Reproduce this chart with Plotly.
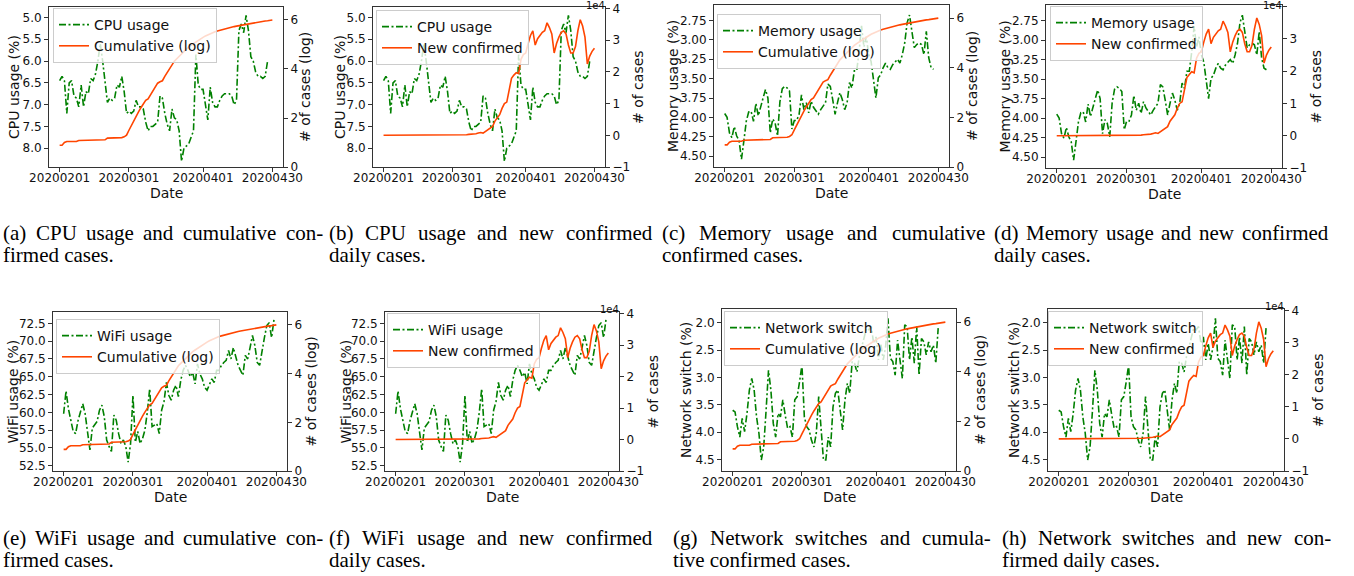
import pandas as pd
import plotly.graph_objects as go

W, H = 1354, 576

# ---------------- data ----------------
DATES = pd.date_range("2020-02-01", "2020-04-30", freq="D")
DATE_TICKS = ["2020-02-01", "2020-03-01", "2020-04-01", "2020-04-30"]

CPU_USAGE = [6.45, 6.35, 6.45, 7.2, 6.5, 6.45, 6.8, 6.85, 7.05, 6.55,
             7.05, 6.7, 6.75, 6.4, 6.45, 6.3, 6.0, 5.6, 6.0, 6.5,
             6.95, 6.85, 6.9, 6.85, 6.55, 6.6, 6.35, 6.7, 7.2, 7.15,
             7.2, 7.15, 6.9, 7.05, 7.05, 7.1, 7.4, 7.6, 7.5, 7.5,
             7.45, 7.4, 6.8, 6.85, 7.2, 7.45, 7.6, 7.1, 7.3, 7.35,
             7.6, 8.3, 8.0, 7.95, 7.9, 7.75, 7.6, 5.85, 6.55, 6.65,
             6.65, 7.0, 7.35, 6.6, 6.95, 7.05, 7.05, 6.9, 6.8, 6.75,
             6.75, 6.75, 6.8, 7.0, 6.9, 5.3, 5.15, 5.35, 4.95, 5.3,
             5.9, 6.0, 6.25, 6.35, 6.35, 6.4, 6.35, 6.0]

MEMORY_USAGE = [3.95, 4.0, 4.2, 4.26, 4.12, 4.24, 4.3, 4.54, 4.3, 4.05,
                3.93, 3.92, 4.05, 3.82, 3.98, 3.85, 3.75, 3.64, 3.75, 4.2,
                4.02, 4.07, 4.24, 3.8, 3.63, 3.6, 3.62, 3.66, 4.15, 4.04,
                4.04, 3.96, 3.71, 3.9, 3.81, 3.94, 3.79, 3.87, 3.92, 3.96,
                3.9, 3.85, 3.81, 3.57, 3.6, 3.77, 3.96, 3.81, 3.68, 3.77,
                3.9, 3.81, 3.55, 3.62, 3.4, 3.4, 3.15, 2.82, 3.09, 2.96,
                3.19, 3.28, 3.55, 3.75, 3.49, 3.45, 3.36, 3.3, 3.36, 3.38,
                3.32, 3.28, 3.25, 3.3, 3.19, 3.04, 2.78, 2.68, 2.87, 3.1,
                3.06, 3.04, 3.06, 3.19, 2.89, 3.23, 3.36, 3.38]

WIFI_USAGE = [59.8, 63.0, 60.5, 58.9, 57.3, 57.0, 58.8, 60.0, 61.2, 59.8,
              57.0, 54.7, 57.8, 58.2, 58.7, 60.3, 61.0, 59.4, 56.1, 55.2,
              54.5, 59.6, 58.9, 57.0, 55.6, 56.1, 55.2, 53.0, 55.6, 62.4,
              55.8, 57.3, 55.6, 56.3, 57.5, 60.0, 63.3, 58.0, 58.2, 58.4,
              57.0, 60.3, 61.5, 64.2, 62.4, 61.7, 63.1, 63.8, 62.2, 64.5,
              65.9, 66.6, 65.9, 65.0, 65.6, 64.0, 66.8, 65.4, 64.7, 63.5,
              63.1, 64.0, 64.7, 64.2, 65.9, 65.9, 66.6, 67.0, 67.3, 68.7,
              67.5, 69.1, 68.0, 66.6, 65.9, 65.2, 68.0, 67.5, 69.1, 70.8,
              69.4, 67.0, 66.6, 68.9, 70.5, 72.2, 72.6, 70.5, 73.0]

NETWORK_SWITCH = [3.6, 3.63, 3.9, 4.09, 3.75, 3.99, 3.66, 3.23, 3.02, 3.23,
                  3.72, 4.02, 4.51, 4.27, 3.6, 2.87, 3.23, 3.84, 4.09, 3.66,
                  3.72, 3.41, 3.69, 3.93, 3.9, 4.09, 3.41, 3.35, 3.08, 2.77,
                  3.72, 3.9, 3.96, 4.15, 4.27, 4.02, 3.35, 4.02, 4.51, 4.51,
                  4.09, 4.27, 3.54, 3.29, 3.23, 3.6, 3.96, 3.41, 3.11, 3.29,
                  2.71, 2.74, 2.9, 2.62, 2.44, 2.23, 2.1, 2.13, 2.07, 2.38,
                  2.26, 2.68, 2.38, 2.68, 2.44, 1.92, 2.65, 2.71, 2.96, 2.32,
                  2.65, 3.02, 2.04, 2.07, 2.68, 2.26, 2.74, 2.07, 2.96, 2.29,
                  2.35, 2.59, 2.35, 2.53, 2.41, 2.74, 2.1]

CUMULATIVE_LOG = [0.89, 0.89, 1.0, 1.04, 1.04, 1.04, 1.04, 1.04, 1.08, 1.08,
                  1.08, 1.11, 1.11, 1.11, 1.11, 1.11, 1.11, 1.11, 1.11, 1.11,
                  1.18, 1.18, 1.18, 1.18, 1.18, 1.18, 1.2, 1.23, 1.3, 1.5,
                  1.7, 1.9, 2.07, 2.25, 2.42, 2.58, 2.72, 2.78, 2.95, 3.1,
                  3.25, 3.42, 3.48, 3.52, 3.7, 3.85, 4.0, 4.2, 4.32, 4.42,
                  4.52, 4.62, 4.72, 4.82, 4.9, 4.97, 5.04, 5.11, 5.17, 5.23,
                  5.29, 5.35, 5.4, 5.45, 5.49, 5.52, 5.55, 5.58, 5.61, 5.64,
                  5.66, 5.69, 5.71, 5.73, 5.75, 5.77, 5.79, 5.81, 5.83, 5.85,
                  5.86, 5.88, 5.9, 5.91, 5.93, 5.94, 5.96, 5.97, 5.98, 6.0]

NEW_CONFIRMED_1E4 = [0.0, 0.0, 0.0, 0.0, 0.0, 0.0, 0.0, 0.0, 0.0, 0.0,
                     0.0, 0.0, 0.0, 0.0, 0.0, 0.0, 0.0, 0.0, 0.0, 0.0,
                     0.0, 0.0, 0.0, 0.0, 0.0, 0.0, 0.0, 0.0, 0.0, 0.0,
                     0.0, 0.0, 0.01, 0.01, 0.02, 0.02, 0.03, 0.03, 0.04, 0.05,
                     0.07, 0.09, 0.07, 0.12, 0.19, 0.22, 0.28, 0.45, 0.55, 0.65,
                     0.85, 1.0, 1.05, 1.45, 1.8, 1.9, 1.98, 1.95, 2.4, 2.55,
                     2.6, 2.9, 3.15, 3.3, 2.85, 3.05, 3.15, 3.25, 3.3, 3.55,
                     3.4, 3.2, 2.6, 2.9, 3.1, 3.25, 3.3, 3.2, 2.85, 2.6,
                     2.6, 2.8, 3.3, 3.65, 3.45, 3.1, 2.25, 2.5, 2.65, 2.75]

CPU_TICKS = [5.0, 5.5, 6.0, 6.5, 7.0, 7.5, 8.0]
MEM_TICKS = [2.75, 3.0, 3.25, 3.5, 3.75, 4.0, 4.25, 4.5]
WIFI_TICKS = [52.5, 55.0, 57.5, 60.0, 62.5, 65.0, 67.5, 70.0, 72.5]
NET_TICKS = [2.0, 2.5, 3.0, 3.5, 4.0, 4.5]
CUM_TICKS = [0, 2, 4, 6]
NEW_TICKS = [-1, 0, 1, 2, 3, 4]

USAGE = {
    "cpu": dict(values=CPU_USAGE, name="CPU usage", title="CPU usage (%)",
                ticks=CPU_TICKS, fmt=".1f", rng=[8.43, 4.76]),
    "mem": dict(values=MEMORY_USAGE, name="Memory usage", title="Memory usage (%)",
                ticks=MEM_TICKS, fmt=".2f", rng=[4.64, 2.55]),
    "wifi": dict(values=WIFI_USAGE, name="WiFi usage", title="WiFi usage (%)",
                 ticks=WIFI_TICKS, fmt=".1f", rng=[51.75, 74.1]),
    "net": dict(values=NETWORK_SWITCH, name="Network switch", title="Network switch (%)",
                ticks=NET_TICKS, fmt=".1f", rng=[4.71, 1.75]),
}
CASES = {
    "cum": dict(values=CUMULATIVE_LOG, name="Cumulative (log)", title="# of cases (log)",
                ticks=CUM_TICKS, text=[str(v) for v in CUM_TICKS], rng=[0, 6.53]),
    "new": dict(values=NEW_CONFIRMED_1E4, name="New confirmed", title="# of cases",
                ticks=NEW_TICKS, text=["\u22121", "0", "1", "2", "3", "4"], rng=[-1.0, 4.05]),
}

# panel layout in pixels: (left, top, right, bottom)
PANELS = [
    dict(u="cpu", c="cum", box=(49, 7, 283, 167), lt=-35, rt=22, leg=(53, 8)),
    dict(u="cpu", c="new", box=(373, 7, 605, 167), lt=-33, rt=33, leg=(376, 10)),
    dict(u="mem", c="cum", box=(714, 5, 949, 167), lt=-41, rt=23, leg=(717, 14)),
    dict(u="mem", c="new", box=(1046, 5, 1282, 168), lt=-42, rt=33, leg=(1050, 6)),
    dict(u="wifi", c="cum", box=(53, 312, 287, 471), lt=-41, rt=23, leg=(56, 319)),
    dict(u="wifi", c="new", box=(385, 312, 619, 471), lt=-40, rt=33, leg=(387, 313)),
    dict(u="net", c="cum", box=(722, 309, 956, 471), lt=-36, rt=24, leg=(724, 311)),
    dict(u="net", c="new", box=(1048, 309, 1284, 471), lt=-34, rt=34, leg=(1048, 311)),
]

CAPTIONS = [
    ("(a) CPU usage and cumulative con-", "firmed cases."),
    ("(b) CPU usage and new confirmed", "daily cases."),
    ("(c) Memory usage and cumulative", "confirmed cases."),
    ("(d) Memory usage and new confirmed", "daily cases."),
    ("(e) WiFi usage and cumulative con-", "firmed cases."),
    ("(f) WiFi usage and new confirmed", "daily cases."),
    ("(g) Network switches and cumula-", "tive confirmed cases."),
    ("(h) Network switches and new con-", "firmed daily cases."),
]
CAPTION_COLS = [(2, 322), (328, 651), (661, 984), (993, 1327),
                (2, 322), (328, 651), (672, 990), (1001, 1330)]
CAPTION_ROWS_Y = [(233, 255), (538, 560)]

# ---------------- figure ----------------
X_LO = DATES[0] - pd.Timedelta(days=4.45)
X_HI = DATES[-1] + pd.Timedelta(days=4.45)

GREEN = "#008000"
ORANGE = "#ff4500"
AXC = "#333333"
TICK_FONT = dict(family="DejaVu Sans", size=12, color="#111111")
LABEL_FONT = dict(family="DejaVu Sans", size=14, color="#111111")


def fx(px):
    return px / W


def fy(py):
    return 1 - py / H


fig = go.Figure()
annotations = []

for i, p in enumerate(PANELS):
    n = i + 1
    u = USAGE[p["u"]]
    c = CASES[p["c"]]
    xname = "x" if n == 1 else f"x{n}"
    ylk, yrk = 2 * n - 1, 2 * n
    yl = "y" if ylk == 1 else f"y{ylk}"
    yr = f"y{yrk}"
    leg = "legend" if n == 1 else f"legend{n}"
    l, t, r, b = p["box"]

    fig.add_trace(go.Scatter(
        x=DATES[:len(u["values"])], y=u["values"], name=u["name"], mode="lines",
        xaxis=xname, yaxis=yl, legend=leg,
        line=dict(color=GREEN, width=1.6, dash="7px,2.5px,2px,2.5px")))
    fig.add_trace(go.Scatter(
        x=DATES[:len(c["values"])], y=c["values"], name=c["name"], mode="lines",
        xaxis=xname, yaxis=yr, legend=leg,
        line=dict(color=ORANGE, width=1.6)))

    xkey = "xaxis" if n == 1 else f"xaxis{n}"
    ylkey = "yaxis" if ylk == 1 else f"yaxis{ylk}"
    yrkey = f"yaxis{yrk}"
    common = dict(ticks="outside", ticklen=4, tickcolor=AXC, showgrid=False, zeroline=False,
                  showline=True, linecolor=AXC, linewidth=1, automargin=False,
                  tickfont=TICK_FONT)
    fig.layout[xkey] = dict(
        domain=[fx(l), fx(r)], anchor=yl, range=[X_LO, X_HI],
        tickvals=DATE_TICKS, tickformat="%Y%m%d", mirror=True,
        ticklabelstandoff=-4, **common)
    fig.layout[ylkey] = dict(
        domain=[fy(b), fy(t)], anchor=xname, range=u["rng"],
        tickvals=u["ticks"], tickformat=u["fmt"], **common)
    fig.layout[yrkey] = dict(
        overlaying=yl, side="right", anchor=xname, range=c["rng"],
        tickvals=c["ticks"], ticktext=c["text"], **common)
    fig.layout[leg] = dict(
        x=fx(p["leg"][0]), y=fy(p["leg"][1]), xanchor="left", yanchor="top",
        bgcolor="rgba(255,255,255,0.8)", bordercolor="#cccccc", borderwidth=1,
        font=dict(family="DejaVu Sans", size=14, color="#111111"),
        itemwidth=30, tracegroupgap=0)

    mid_y = (t + b) / 2
    annotations.append(dict(text=u["title"], x=fx(l + p["lt"]), y=fy(mid_y), textangle=-90,
                            xref="paper", yref="paper", showarrow=False,
                            xanchor="center", yanchor="middle", font=LABEL_FONT))
    annotations.append(dict(text=c["title"], x=fx(r + p["rt"]), y=fy(mid_y), textangle=-90,
                            xref="paper", yref="paper", showarrow=False,
                            xanchor="center", yanchor="middle", font=LABEL_FONT))
    annotations.append(dict(text="Date", x=fx((l + r) / 2), y=fy(b + 26),
                            xref="paper", yref="paper", showarrow=False,
                            xanchor="center", yanchor="middle", font=LABEL_FONT))
    if p["c"] == "new":
        annotations.append(dict(text="1e4", x=fx(r + 1), y=fy(max(t - 3, 5)),
                                xref="paper", yref="paper", showarrow=False,
                                xanchor="right", yanchor="middle", borderpad=0,
                                font=dict(family="DejaVu Sans", size=10, color="#111111")))

# ---------------- captions (justified first line) ----------------
TIMES_W = {" ": 250, "(": 333, ")": 333, "-": 333, ".": 250,
           "a": 444, "b": 500, "c": 444, "d": 500, "e": 444, "f": 333, "g": 500,
           "h": 500, "i": 278, "k": 500, "l": 278, "m": 778, "n": 500, "o": 500,
           "r": 333, "s": 389, "t": 278, "u": 500, "v": 500, "w": 722, "y": 500,
           "C": 667, "F": 556, "M": 889, "N": 722, "P": 556, "U": 722, "W": 944}
CAP_SIZE = 21
CAP_FONT = dict(family="Liberation Serif", size=CAP_SIZE, color="#000000")


def text_width(s):
    return sum(TIMES_W.get(ch, 500) for ch in s) * CAP_SIZE / 1000


for k, (line1, line2) in enumerate(CAPTIONS):
    x0, x1 = CAPTION_COLS[k]
    y1, y2 = CAPTION_ROWS_Y[k // 4]
    words = line1.split(" ")
    widths = [text_width(w) for w in words]
    gap = max((x1 - x0 - sum(widths)) / (len(words) - 1), 0.2 * CAP_SIZE)
    xpos = x0
    for w, wd in zip(words, widths):
        annotations.append(dict(text=w, x=fx(xpos), y=fy(y1), xref="paper", yref="paper",
                                showarrow=False, xanchor="left", yanchor="middle",
                                borderpad=0, font=CAP_FONT))
        xpos += wd + gap
    annotations.append(dict(text=line2, x=fx(x0), y=fy(y2), xref="paper", yref="paper",
                            showarrow=False, xanchor="left", yanchor="middle",
                            borderpad=0, font=CAP_FONT))

fig.update_layout(
    width=W, height=H, margin=dict(l=0, r=0, t=0, b=0, autoexpand=False),
    paper_bgcolor="white", plot_bgcolor="white",
    annotations=annotations, showlegend=True,
)

# remove the browser's default 8px body margin so the figure sits at the page origin
fig.write_html("out.html", config={"displayModeBar": False},
               post_script="document.body.style.margin='0px';")
